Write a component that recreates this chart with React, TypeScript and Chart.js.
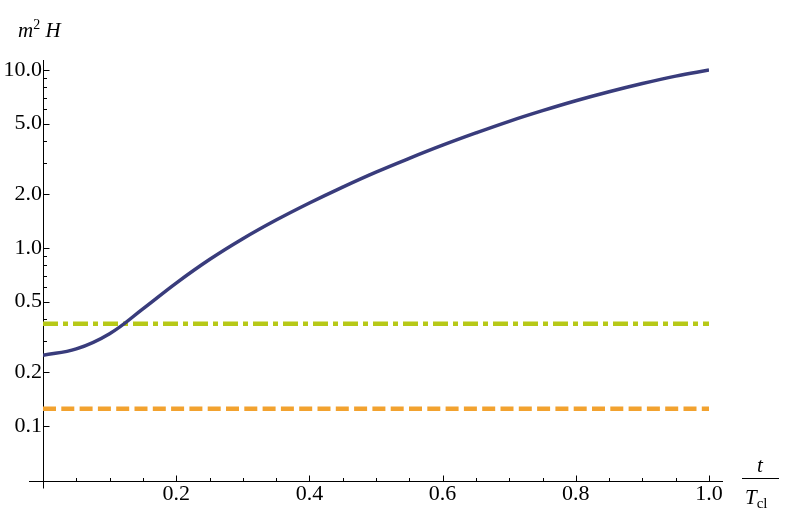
import React, { useEffect, useRef } from "react";
import { Chart, registerables } from "chart.js";

Chart.register(...registerables);

// t / T_cl sample positions
const tValues = [0, 0.05, 0.1, 0.15, 0.2, 0.25, 0.3, 0.35, 0.4, 0.45, 0.5, 0.55, 0.6, 0.65, 0.7, 0.75, 0.8, 0.85, 0.9, 0.95, 1.0];
// m^2 H curve values
const hValues = [0.25, 0.271, 0.33, 0.455, 0.635, 0.861, 1.127, 1.435, 1.79, 2.2, 2.67, 3.19, 3.78, 4.43, 5.15, 5.91, 6.72, 7.55, 8.4, 9.24, 10.0];
// constant reference levels
const greenLevel = 0.375;
const orangeLevel = 0.125;
const levelT = [0, 1];

// axis ticks
const xMajorTicks = [0.2, 0.4, 0.6, 0.8, 1.0];
const xMinorTicks = [0.05, 0.1, 0.15, 0.25, 0.3, 0.35, 0.45, 0.5, 0.55, 0.65, 0.7, 0.75, 0.85, 0.9, 0.95];
const yMajorTicks = [0.1, 0.2, 0.5, 1, 2, 5, 10];
const yMinorTicks = [0.3, 0.4, 0.6, 0.7, 0.8, 0.9, 3, 4, 6, 7, 8, 9];
const yMin = 0.0491;
const yMax = 11.38;

const FONT = "'Liberation Serif', 'Times New Roman', serif";

const axesPlugin = {
  id: "mmaAxes",
  beforeDatasetsDraw(chart: any) {
    const { ctx, chartArea, scales } = chart;
    const xs = scales.x;
    const ys = scales.y;
    const x0 = Math.round(xs.getPixelForValue(0)) + 0.5;
    const yb = Math.round(chartArea.bottom) + 0.5;
    ctx.save();
    ctx.strokeStyle = "#000";
    ctx.lineWidth = 1;
    ctx.beginPath();
    ctx.moveTo(chartArea.left - 14, yb);
    ctx.lineTo(chartArea.right + 14, yb);
    ctx.moveTo(x0, chartArea.top);
    ctx.lineTo(x0, yb + 7);
    xMajorTicks.forEach((v) => {
      const p = Math.round(xs.getPixelForValue(v)) + 0.5;
      ctx.moveTo(p, yb);
      ctx.lineTo(p, yb - 6);
    });
    xMinorTicks.forEach((v) => {
      const p = Math.round(xs.getPixelForValue(v)) + 0.5;
      ctx.moveTo(p, yb);
      ctx.lineTo(p, yb - 3.5);
    });
    yMajorTicks.forEach((v) => {
      const p = Math.round(ys.getPixelForValue(v)) + 0.5;
      ctx.moveTo(x0, p);
      ctx.lineTo(x0 + 6, p);
    });
    yMinorTicks.forEach((v) => {
      const p = Math.round(ys.getPixelForValue(v)) + 0.5;
      ctx.moveTo(x0, p);
      ctx.lineTo(x0 + 3.5, p);
    });
    ctx.stroke();
    ctx.restore();
  },
};

export default function App() {
  const canvasRef = useRef<HTMLCanvasElement | null>(null);

  useEffect(() => {
    const canvas = canvasRef.current;
    if (!canvas) return;
    const chart = new Chart(canvas, {
      type: "line",
      data: {
        datasets: [
          {
            label: "m2H",
            data: tValues.map((t, i) => ({ x: t, y: hValues[i] })),
            borderColor: "#393c7c",
            borderWidth: 3.5,
            pointRadius: 0,
            fill: false,
            tension: 0.4,
          },
          {
            label: "green",
            data: levelT.map((t) => ({ x: t, y: greenLevel })),
            borderColor: "#b7c918",
            borderWidth: 4.5,
            borderDash: [15, 5, 5, 5],
            borderCapStyle: "butt",
            pointRadius: 0,
            fill: false,
          },
          {
            label: "orange",
            data: levelT.map((t) => ({ x: t, y: orangeLevel })),
            borderColor: "#f2a22f",
            borderWidth: 4.5,
            borderDash: [13, 5.3],
            borderCapStyle: "butt",
            pointRadius: 0,
            fill: false,
          },
        ],
      },
      options: {
        animation: false,
        responsive: false,
        maintainAspectRatio: false,
        layout: { padding: { top: 60, right: 80, left: 0, bottom: 0 } },
        plugins: {
          legend: { display: false },
          tooltip: { enabled: false },
          title: { display: false },
        },
        scales: {
          x: {
            type: "linear",
            min: 0,
            max: 1,
            grid: { display: false, drawTicks: false },
            border: { display: false },
            ticks: {
              color: "#000",
              font: { family: FONT, size: 22 },
              padding: 0,
              maxRotation: 0,
              autoSkip: false,
              callback: (v: any) => Number(v).toFixed(1),
            },
            afterBuildTicks: (s: any) => {
              s.ticks = xMajorTicks.map((v) => ({ value: v }));
            },
            afterFit: (s: any) => {
              s.height = 39;
            },
          },
          y: {
            type: "logarithmic",
            min: yMin,
            max: yMax,
            grid: { display: false, drawTicks: false },
            border: { display: false },
            ticks: {
              color: "#000",
              font: { family: FONT, size: 22 },
              padding: 1,
              autoSkip: false,
              callback: (v: any) => Number(v).toFixed(1),
            },
            afterBuildTicks: (s: any) => {
              s.ticks = yMajorTicks.map((v) => ({ value: v }));
            },
            afterFit: (s: any) => {
              s.width = 43;
            },
          },
        },
      },
      plugins: [axesPlugin],
    });
    return () => chart.destroy();
  }, []);

  const labelStyle: React.CSSProperties = {
    position: "absolute",
    fontFamily: FONT,
    fontSize: 21,
    lineHeight: "21px",
    color: "#000",
    whiteSpace: "nowrap",
  };

  return (
    <div style={{ position: "fixed", left: 0, top: 0, width: 789, height: 520, background: "#fff" }}>
      <canvas ref={canvasRef} width={789} height={520} style={{ position: "absolute", left: 0, top: 0 }} />
      <div style={{ ...labelStyle, left: 18, top: 20 }}>
        <i>m</i>
        <span style={{ fontSize: 14, position: "relative", top: -8 }}>2</span>
        <span> </span>
        <i>H</i>
      </div>
      <div style={{ ...labelStyle, left: 741, top: 455, width: 38, textAlign: "center" }}>
        <i>t</i>
      </div>
      <div style={{ position: "absolute", left: 742, top: 478, width: 37, height: 1, background: "#000" }} />
      <div style={{ ...labelStyle, left: 745, top: 487 }}>
        <i>T</i>
        <span style={{ fontSize: 15, position: "relative", top: 4 }}>cl</span>
      </div>
    </div>
  );
}
